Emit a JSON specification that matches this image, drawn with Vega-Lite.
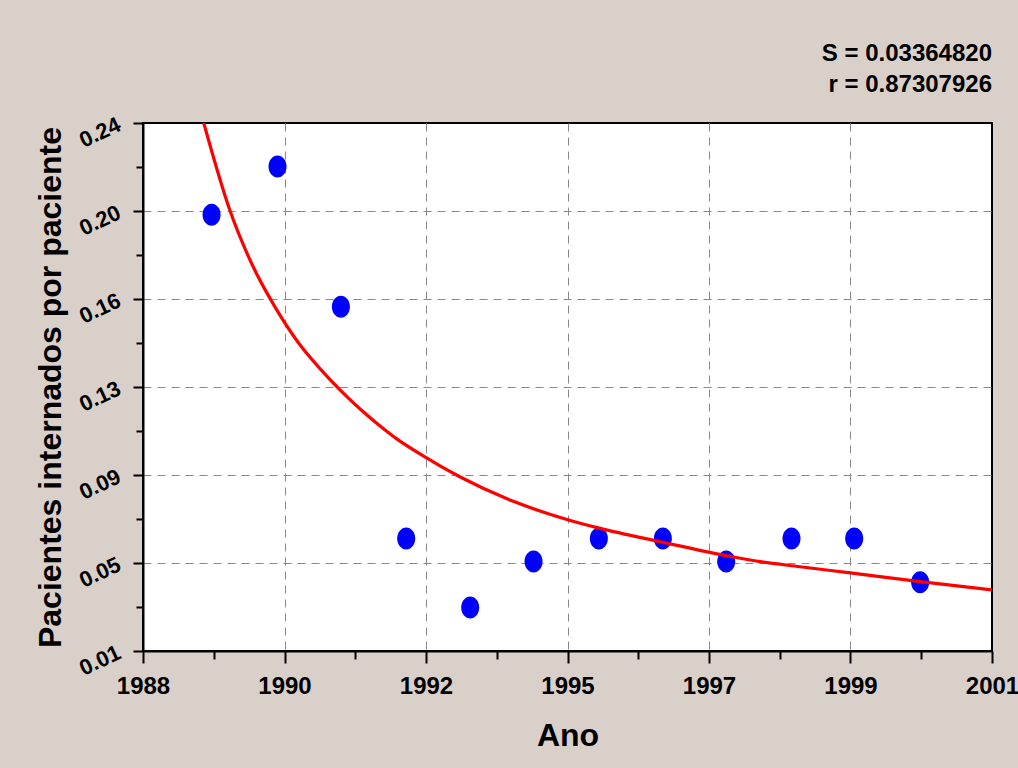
{
  "$schema": "https://vega.github.io/schema/vega-lite/v6.json",
  "width": 849,
  "height": 528,
  "autosize": "none",
  "padding": {"left": 143, "top": 123, "right": 26, "bottom": 117},
  "background": "#D9D0CA",
  "title": {
    "text": ["S = 0.03364820", "r = 0.87307926"],
    "anchor": "end",
    "frame": "group",
    "font": "Liberation Sans",
    "fontSize": 24,
    "fontWeight": "bold",
    "color": "black",
    "lineHeight": 31,
    "offset": 16
  },
  "config": {
    "view": {"stroke": "black", "strokeWidth": 2, "fill": "white"}
  },
  "datasets": {
    "pontos": [
      {"x": 1989.05, "y": 0.200},
      {"x": 1990.06, "y": 0.221},
      {"x": 1991.03, "y": 0.160},
      {"x": 1992.03, "y": 0.059},
      {"x": 1993.01, "y": 0.029},
      {"x": 1993.98, "y": 0.049},
      {"x": 1994.98, "y": 0.059},
      {"x": 1995.96, "y": 0.059},
      {"x": 1996.93, "y": 0.049},
      {"x": 1997.93, "y": 0.059},
      {"x": 1998.89, "y": 0.059},
      {"x": 1999.90, "y": 0.040}
    ],
    "curva": [
      {"x": 1988.93, "y": 0.2400},
      {"x": 1989.33, "y": 0.2020},
      {"x": 1989.66, "y": 0.1790},
      {"x": 1990.05, "y": 0.1585},
      {"x": 1990.40, "y": 0.1435},
      {"x": 1990.71, "y": 0.1330},
      {"x": 1991.02, "y": 0.1236},
      {"x": 1991.32, "y": 0.1155},
      {"x": 1991.63, "y": 0.1080},
      {"x": 1991.88, "y": 0.1025},
      {"x": 1992.29, "y": 0.0950},
      {"x": 1992.85, "y": 0.0859},
      {"x": 1993.67, "y": 0.0752},
      {"x": 1994.49, "y": 0.0673},
      {"x": 1995.00, "y": 0.0634},
      {"x": 1995.92, "y": 0.0576},
      {"x": 1996.94, "y": 0.0515},
      {"x": 1997.45, "y": 0.0489},
      {"x": 1998.06, "y": 0.0467},
      {"x": 1998.83, "y": 0.0440},
      {"x": 1999.90, "y": 0.0402},
      {"x": 2001.00, "y": 0.0366}
    ]
  },
  "layer": [
    {
      "data": {"name": "pontos"},
      "mark": {
        "type": "point",
        "shape": "M0,-1A0.82,1,0,1,1,0,1A0.82,1,0,1,1,0,-1Z",
        "filled": true,
        "size": 484,
        "color": "#0000FF",
        "opacity": 1,
        "strokeWidth": 0
      },
      "encoding": {
        "x": {
          "field": "x",
          "type": "quantitative",
          "scale": {"domain": [1988, 2001], "nice": false, "zero": false},
          "axis": {
            "title": "Ano",
            "titleFont": "Liberation Sans",
            "titleFontSize": 32,
            "titleFontWeight": "bold",
            "titleColor": "black",
            "titlePadding": 22,
            "values": [1988, 1988.541667, 1989.083333, 1989.625, 1990.166667, 1990.708333, 1991.25, 1991.791667, 1992.333333, 1992.875, 1993.416667, 1993.958333, 1994.5, 1995.041667, 1995.583333, 1996.125, 1996.666667, 1997.208333, 1997.75, 1998.291667, 1998.833333, 1999.375, 1999.916667, 2000.458333, 2001],
            "labelExpr": "abs((datum.value-1988)/(13/6) - round((datum.value-1988)/(13/6))) < 0.01 ? format(round(datum.value), 'd') : ''",
            "labelFont": "Liberation Sans",
            "labelFontSize": 24,
            "labelFontWeight": "bold",
            "labelColor": "black",
            "labelPadding": 11,
            "labelFlush": false,
            "labelOverlap": false,
            "tickSize": {"condition": {"test": "abs((datum.value-1988)/(13/6) - round((datum.value-1988)/(13/6))) < 0.01", "value": 12}, "value": 8},
            "tickWidth": 2,
            "tickColor": "black",
            "domainColor": "black",
            "domainWidth": 2,
            "grid": true,
            "gridColor": "#888888",
            "gridDash": [8, 6],
            "gridWidth": 1,
            "gridOpacity": {"condition": {"test": "abs((datum.value-1988)/(13/6) - round((datum.value-1988)/(13/6))) < 0.01 && datum.value > 1988.01 && datum.value < 2000.99", "value": 1}, "value": 0}
          }
        },
        "y": {
          "field": "y",
          "type": "quantitative",
          "scale": {"domain": [0.01, 0.24], "nice": false, "zero": false},
          "axis": {
            "title": "Pacientes internados por paciente",
            "titleFont": "Liberation Sans",
            "titleFontSize": 32,
            "titleFontWeight": "bold",
            "titleColor": "black",
            "titlePadding": 8,
            "values": [0.01, 0.019583, 0.029167, 0.03875, 0.048333, 0.057917, 0.0675, 0.077083, 0.086667, 0.09625, 0.105833, 0.115417, 0.125, 0.134583, 0.144167, 0.15375, 0.163333, 0.172917, 0.1825, 0.192083, 0.201667, 0.21125, 0.220833, 0.230417, 0.24],
            "labelExpr": "abs((datum.value-0.01)/(0.23/6) - round((datum.value-0.01)/(0.23/6))) < 0.01 ? format(datum.value, '.2f') : ''",
            "labelFont": "Liberation Sans",
            "labelFontSize": 22,
            "labelFontWeight": "bold",
            "labelColor": "black",
            "labelAngle": -25,
            "labelAlign": "right",
            "labelBaseline": "middle",
            "labelPadding": 14,
            "labelFlush": false,
            "labelOverlap": false,
            "tickSize": {"condition": {"test": "abs((datum.value-0.01)/(0.23/6) - round((datum.value-0.01)/(0.23/6))) < 0.01", "value": 10}, "value": 7},
            "tickWidth": 2,
            "tickColor": "black",
            "domainColor": "black",
            "domainWidth": 2,
            "grid": true,
            "gridColor": "#888888",
            "gridDash": [8, 6],
            "gridWidth": 1,
            "gridOpacity": {"condition": {"test": "abs((datum.value-0.01)/(0.23/6) - round((datum.value-0.01)/(0.23/6))) < 0.01 && datum.value > 0.0101 && datum.value < 0.2399", "value": 1}, "value": 0}
          }
        }
      }
    },
    {
      "data": {"name": "curva"},
      "mark": {"type": "line", "color": "#FF0000", "strokeWidth": 3.2, "clip": true, "interpolate": "monotone"},
      "encoding": {
        "x": {"field": "x", "type": "quantitative"},
        "y": {"field": "y", "type": "quantitative"}
      }
    }
  ]
}
